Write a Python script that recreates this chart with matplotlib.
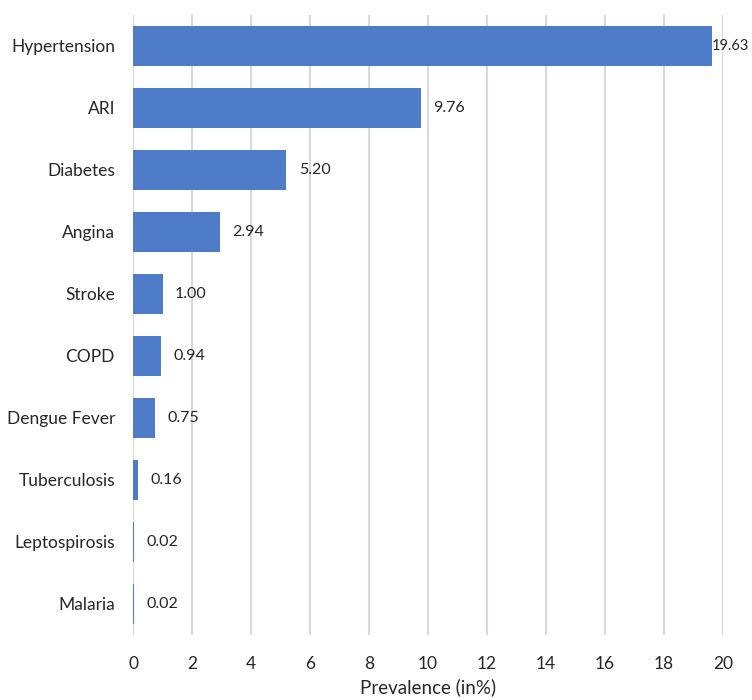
import matplotlib.pyplot as plt

# data
diseases = ["Hypertension", "ARI", "Diabetes", "Angina", "Stroke", "COPD",
            "Dengue Fever", "Tuberculosis", "Leptospirosis", "Malaria"]
prevalence = [19.63, 9.76, 5.20, 2.94, 1.00, 0.94, 0.75, 0.16, 0.02, 0.02]
xticks = list(range(0, 21, 2))

plt.rcParams["font.family"] = ["Lato", "DejaVu Sans"]

fig = plt.figure(figsize=(7.52, 7.0), dpi=100)
ax = fig.add_axes([0.1769, 0.0929, 0.7846, 0.8857])

ypos = list(range(len(diseases)))
ax.barh(ypos, prevalence, height=0.66, color="#4E7CC8", zorder=3)

for y, v in zip(ypos, prevalence):
    pad = 0 if v == max(prevalence) else 9
    ax.annotate(f"{v:.2f}", (v, y), xytext=(pad, 0), textcoords="offset points",
                va="center", ha="left", fontsize=11.5 if pad else 10.5,
                color="#262626", annotation_clip=False, zorder=4)

ax.set_xlim(0, 20)
ax.set_ylim(len(diseases) - 0.5, -0.5)
ax.set_yticks(ypos)
ax.set_yticklabels(diseases, fontsize=12.5, color="#262626")
ax.set_xticks(xticks)
ax.set_xticklabels([str(t) for t in xticks], fontsize=12.5, color="#262626")
ax.tick_params(axis="both", length=0)
ax.tick_params(axis="y", pad=13)
ax.tick_params(axis="x", pad=15)

ax.grid(axis="x", color="#D9D9D9", linewidth=1.5, zorder=0)
ax.grid(axis="y", visible=False)
for s in ax.spines.values():
    s.set_visible(False)

ax.set_xlabel("Prevalence (in%)", fontsize=13.5, color="#262626", labelpad=5)

fig.savefig("out.png", dpi=100)
